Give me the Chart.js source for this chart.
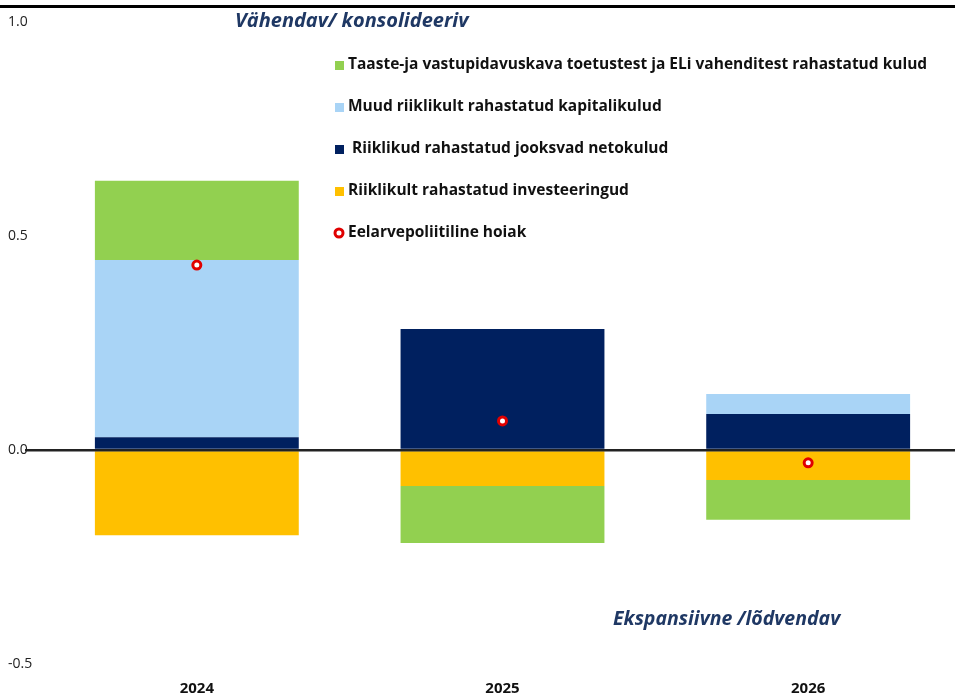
<!DOCTYPE html>
<html>
<head>
<meta charset="utf-8">
<script src="https://cdn.jsdelivr.net/npm/chart.js@4.4.1/dist/chart.umd.min.js"></script>
<style>
  html, body { margin:0; padding:0; background:#fff; overflow:hidden; }
  #wrap { position:relative; width:968px; height:696px; }
  #topline { position:absolute; left:0; top:5px; width:955px; height:3px; background:#000; }
</style>
</head>
<body>
<div id="wrap">
  <canvas id="graphCanvas" width="968" height="696"></canvas>
  <div id="topline"></div>
</div>
<script>
var years = ['2024', '2025', '2026'];
var jooksvad = [0.03, 0.283, 0.084];        // Riiklikud rahastatud jooksvad netokulud
var investeeringud = [-0.199, -0.084, -0.07]; // Riiklikult rahastatud investeeringud
var kapitalikulud = [0.414, 0, 0.047];      // Muud riiklikult rahastatud kapitalikulud
var rrf = [0.185, -0.133, -0.093];          // Taaste-ja vastupidavuskava ... kulud
var hoiak = [0.432, 0.068, -0.03];          // Eelarvepoliitiline hoiak
var yTicks = [1.0, 0.5, 0.0, -0.5];

var font = '"Open Sans", Lato, sans-serif';

// legend + side notes drawn on top
var notes = {
  id: 'notes',
  afterDraw: function(chart){
    var ctx = chart.ctx;
    ctx.save();
    var order = [3, 2, 0, 1, 4];
    var y = 65;
    ctx.font = 'bold 15.5px ' + font;
    ctx.textBaseline = 'middle';
    for (var i = 0; i < order.length; i++) {
      var ds = chart.data.datasets[order[i]];
      if (ds.type == 'line') {
        ctx.beginPath();
        ctx.arc(339, y, 4, 0, Math.PI * 2);
        ctx.fillStyle = '#fff';
        ctx.fill();
        ctx.lineWidth = 3;
        ctx.strokeStyle = ds.borderColor;
        ctx.stroke();
      } else {
        ctx.fillStyle = ds.backgroundColor;
        ctx.fillRect(335, y - 4, 9, 9);
      }
      ctx.fillStyle = '#111';
      ctx.fillText(ds.label, 348, y);
      y += 42;
    }
    ctx.fillStyle = '#1F3864';
    ctx.font = 'italic bold 20px ' + font;
    ctx.fillText('Vähendav/ konsolideeriv', 235, 21);
    ctx.font = 'italic bold 19.5px ' + font;
    ctx.fillText('Ekspansiivne /lõdvendav', 613, 619);
    ctx.restore();
  }
};

var chartdata = {
  labels: years,
  datasets: [
    { label: ' Riiklikud rahastatud jooksvad netokulud', data: jooksvad, backgroundColor: '#00205F' },
    { label: 'Riiklikult rahastatud investeeringud', data: investeeringud, backgroundColor: '#FFC000' },
    { label: 'Muud riiklikult rahastatud kapitalikulud', data: kapitalikulud, backgroundColor: '#A9D4F6' },
    { label: 'Taaste-ja vastupidavuskava toetustest ja ELi vahenditest rahastatud kulud', data: rrf, backgroundColor: '#92D050' },
    { type: 'line', label: 'Eelarvepoliitiline hoiak', data: hoiak, showLine: false, order: -1,
      pointRadius: 4, pointHoverRadius: 4, pointBorderWidth: 3,
      borderColor: '#E00000', pointBackgroundColor: '#fff', backgroundColor: '#fff', stack: 'dot' }
  ]
};

new Chart(document.getElementById('graphCanvas'), {
  type: 'bar',
  data: chartdata,
  plugins: [notes],
  options: {
    responsive: false,
    animation: false,
    datasets: { bar: { categoryPercentage: 1, barPercentage: 0.667 } },
    layout: { padding: { left: 8, top: 22, right: 0, bottom: 0 } },
    plugins: { legend: { display: false }, tooltip: { enabled: false } },
    scales: {
      x: {
        stacked: true,
        afterFit: function(s){ s.height = 32; },
        grid: { display: false },
        border: { display: false },
        ticks: { padding: 8, color: '#111', font: { family: font, size: 15, weight: 'bold' } }
      },
      y: {
        stacked: true,
        min: -0.5, max: 1.0,
        afterFit: function(s){ s.width = 36; },
        afterBuildTicks: function(s){ s.ticks = yTicks.map(function(v){ return { value: v }; }); },
        border: { display: false },
        grid: {
          z: 1,
          tickLength: 19,
          lineWidth: 2.5,
          color: function(c){ return c.tick && c.tick.value === 0 ? '#222' : 'rgba(0,0,0,0)'; }
        },
        ticks: {
          crossAlign: 'far',
          padding: 4,
          color: '#222',
          font: { family: font, size: 14 },
          callback: function(v){ return Number(v).toFixed(1); }
        }
      }
    }
  }
});
</script>
</body>
</html>
